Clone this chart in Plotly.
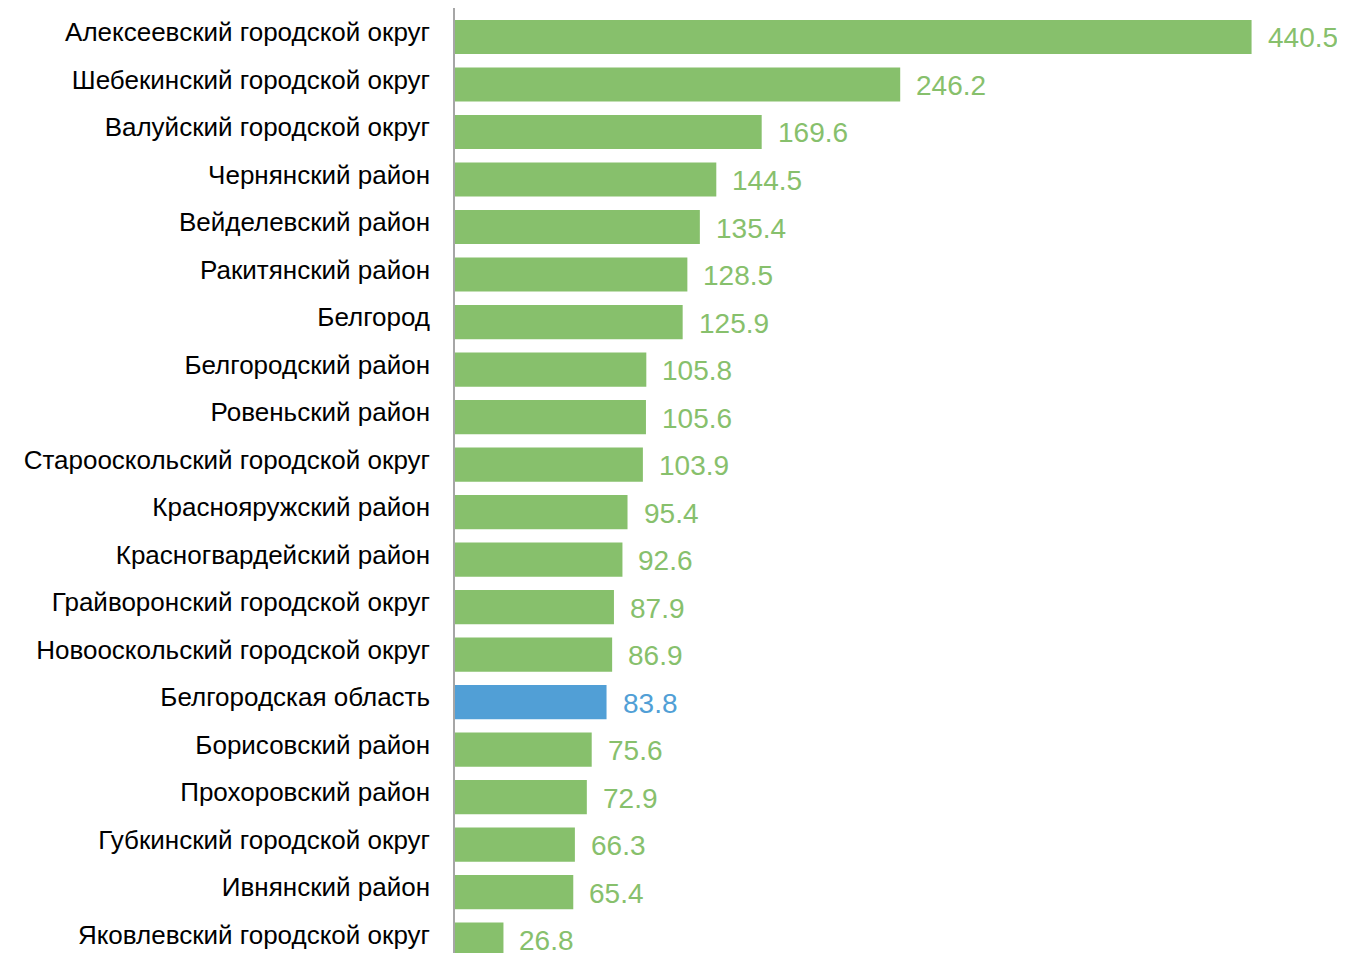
import plotly.graph_objects as go

categories = [
    "Алексеевский городской округ",
    "Шебекинский городской округ",
    "Валуйский городской округ",
    "Чернянский район",
    "Вейделевский район",
    "Ракитянский район",
    "Белгород",
    "Белгородский район",
    "Ровеньский район",
    "Старооскольский городской округ",
    "Краснояружский район",
    "Красногвардейский район",
    "Грайворонский городской округ",
    "Новооскольский городской округ",
    "Белгородская область",
    "Борисовский район",
    "Прохоровский район",
    "Губкинский городской округ",
    "Ивнянский район",
    "Яковлевский городской округ",
]
values = [440.5, 246.2, 169.6, 144.5, 135.4, 128.5, 125.9, 105.8, 105.6, 103.9,
          95.4, 92.6, 87.9, 86.9, 83.8, 75.6, 72.9, 66.3, 65.4, 26.8]
highlight = "Белгородская область"

GREEN = "#87C06C"
BLUE = "#519FD6"
colors = [BLUE if c == highlight else GREEN for c in categories]
positions = list(range(len(categories)))

fig = go.Figure()
fig.add_trace(go.Bar(
    x=values, y=positions, orientation="h",
    marker=dict(color=colors, line=dict(width=0)),
    width=0.72, hoverinfo="skip",
))

for p, v, col in zip(positions, values, colors):
    fig.add_annotation(
        x=v, y=p, text=f"{v:.1f}", showarrow=False,
        xanchor="left", yanchor="middle", xshift=14, yshift=-1,
        font=dict(family="Liberation Sans, Arial, sans-serif", size=28, color=col),
    )

fig.update_layout(
    width=1345, height=953,
    margin=dict(l=447, r=30, t=0, b=0),
    paper_bgcolor="white", plot_bgcolor="white",
    showlegend=False,
    font=dict(family="Liberation Sans, Arial, sans-serif", size=26, color="black"),
)
fig.update_xaxes(range=[0, 480], visible=False, showgrid=False, zeroline=False)
fig.update_yaxes(
    tickmode="array", tickvals=positions, ticktext=categories,
    range=[19.45, -0.61], showgrid=False, zeroline=False,
    showline=True, linecolor="#A6A6A6", linewidth=1.5,
    ticks="", ticklabelstandoff=18, ticklabelshift=5,
    tickfont=dict(family="Liberation Sans, Arial, sans-serif", size=26, color="black"),
)

fig.write_html("out.html")
